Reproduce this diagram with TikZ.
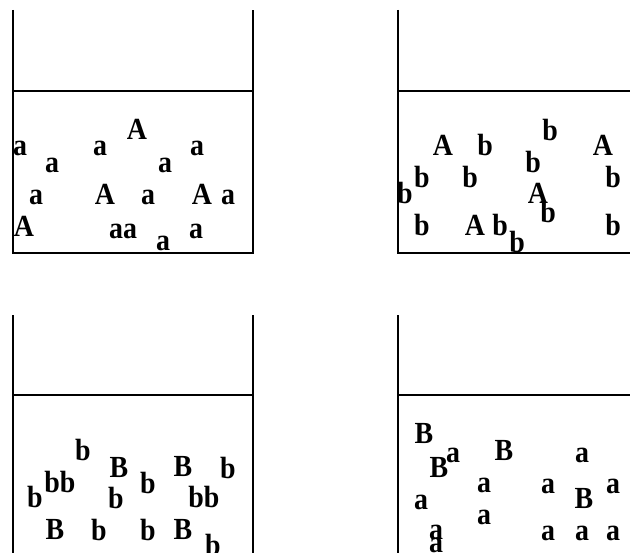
\documentclass[tikz,border=0pt]{standalone}
\usepackage{fontspec}
\setmainfont{Liberation Serif}
\usepackage{tikz}
\usetikzlibrary{positioning}

\tikzset{
    wall/.style={line width=2.6bp, black},
    surface/.style={line width=2.2bp, black},
    particle/.style={font=\fontsize{28}{28}\bfseries\selectfont, inner sep=0pt, anchor=center, yscale=1.1, transform shape},
}

\begin{document}
\begin{tikzpicture}[x=1bp, y=-1bp]
\useasboundingbox (0,0) rectangle (630,553);

% top left beaker
\draw[wall] (13,10) -- (13,253) -- (253,253) -- (253,10);
\draw[surface] (13,91) -- (253,91);
\foreach \x/\y/\t [count=\i] in {137/129/A, 20/148/a, 52/165/a, 100/148/a, 165/165/a, 197/148/a,
    36/197/a, 105/194/A, 148/197/a, 202/194/A, 228/197/a, 24/226/A, 123/231/aa, 196/231/a, 163/243/a}
    \node[particle] (tl\i) at (\x,\y) {\t};

% top right beaker
\draw[wall] (398,10) -- (398,253) -- (632,253);
\draw[surface] (398,91) -- (632,91);
\foreach \x/\y/\t [count=\i] in {443/145/A, 485/145/b, 550/130/b, 603/145/A, 422/177/b, 470/177/b,
    533/162/b, 613/177/b, 405/193/b, 538/193/A, 548/212/b, 422/225/b, 475/225/A, 500/225/b,
    517/242/b, 613/225/b}
    \node[particle] (tr\i) at (\x,\y) {\t};

% bottom left beaker
\draw[wall] (13,315) -- (13,555);
\draw[wall] (253,315) -- (253,555);
\draw[surface] (13,395) -- (253,395);
\foreach \x/\y/\t [count=\i] in {83/450/b, 119/467/B, 183/466/B, 228/468/b, 35/497/b, 60/482/bb,
    148/483/b, 116/498/b, 204/497/bb, 55/529/B, 99/530/b, 148/530/b, 183/529/B, 213/545/b}
    \node[particle] (bl\i) at (\x,\y) {\t};

% bottom right beaker
\draw[wall] (398,315) -- (398,555);
\draw[surface] (398,395) -- (632,395);
\foreach \x/\y/\t [count=\i] in {424/433/B, 439/467/B, 453/455/a, 504/450/B, 582/455/a, 484/485/a,
    548/486/a, 421/502/a, 584/498/B, 613/486/a, 484/517/a, 436/532/a, 436/545/a, 548/533/a,
    582/533/a, 613/533/a}
    \node[particle] (br\i) at (\x,\y) {\t};
\end{tikzpicture}
\end{document}
